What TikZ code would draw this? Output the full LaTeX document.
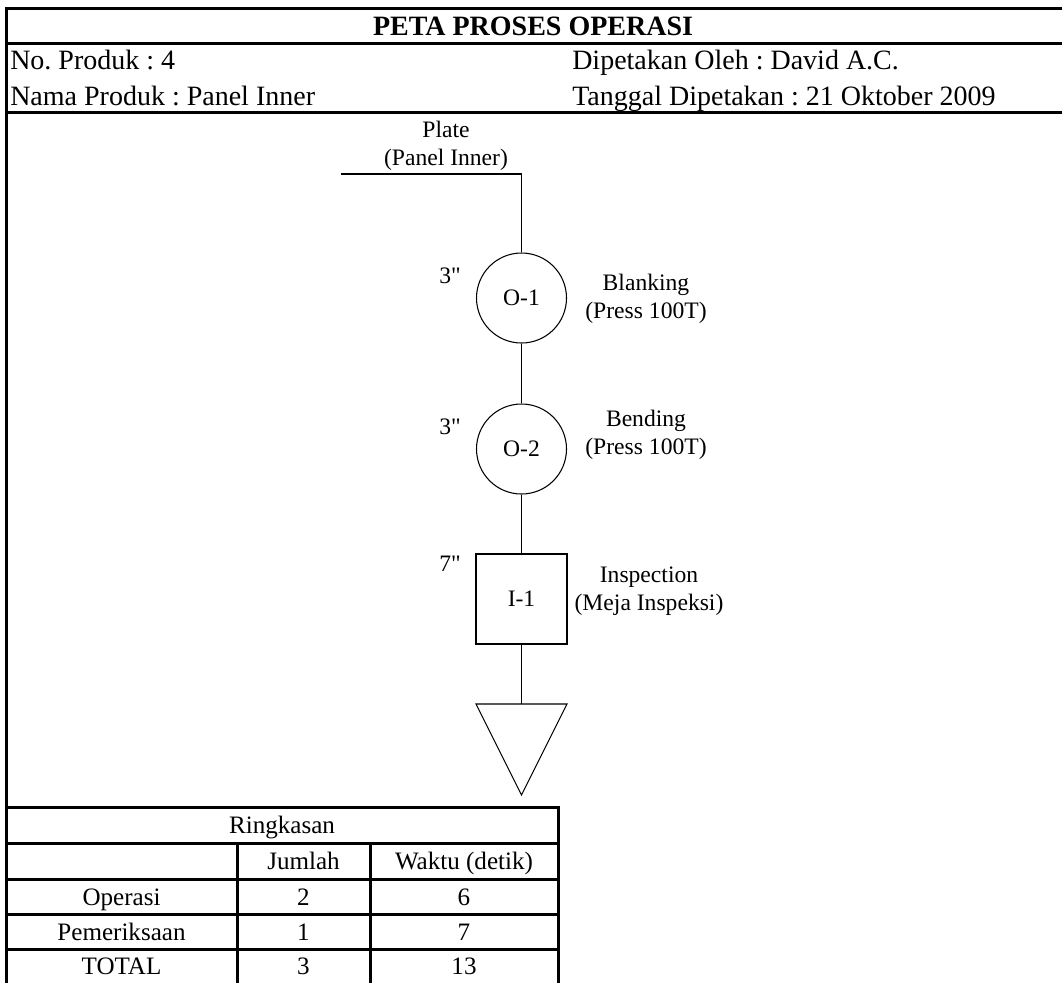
\documentclass[tikz,border=0pt]{standalone}
\usepackage{fontspec}
\setmainfont[Ligatures=TeXOff]{Liberation Serif}
\frenchspacing
\begin{document}
\begin{tikzpicture}[x=0.75pt,y=-0.75pt,
  frame/.style={line width=2.25pt},
  flow/.style={line width=0.8pt},
  hdr/.style={font=\fontsize{21}{25}\selectfont, inner sep=0pt},
  lbl/.style={font=\fontsize{17.7}{21}\selectfont, inner sep=0pt, align=center},
  tbl/.style={font=\fontsize{18.8}{23}\selectfont, inner sep=0pt, anchor=base},
  opcircle/.style={draw, circle, line width=0.8pt, minimum size=67.5pt, inner sep=0pt, font=\fontsize{17.7}{21}\selectfont},
  inbox/.style={draw, rectangle, line width=0.8pt, minimum width=68.25pt, minimum height=67.5pt, inner sep=0pt, font=\fontsize{17.7}{21}\selectfont}]
\useasboundingbox (0,0) rectangle (1062,983);
% header frame
\coordinate (tl) at (6,8);
\coordinate (tr) at (1062,8);
\coordinate (l1) at (6,43);
\coordinate (r1) at (1062,43);
\coordinate (l2) at (6,112);
\coordinate (r2) at (1062,112);
\coordinate (bl) at (6,983);
\draw[frame] (tr) -- (tl) -- (bl);
\draw[frame] (l1) -- (r1);
\draw[frame] (l2) -- (r2);
% header texts
\node[hdr, font=\fontsize{21}{25}\selectfont\bfseries, anchor=base] (title) at (533,35) {PETA PROSES OPERASI};
\node[hdr, anchor=base west] (nop) at (10,69.5) {No. Produk : 4};
\node[hdr, anchor=base west] (nama) at (10,105) {Nama Produk : Panel Inner};
\node[hdr, anchor=base west] (oleh) at (572,69.5) {Dipetakan Oleh : David A.C.};
\node[hdr, anchor=base west] (tgl) at (572,105) {Tanggal Dipetakan : 21 Oktober 2009};
% flow
\node[lbl] (plate) at (446,146) {Plate\\(Panel Inner)};
\coordinate (ps) at (341,174);
\coordinate (pc) at (521.5,174);
\node[opcircle] (o1) at (521.5,298) {O-1};
\node[opcircle] (o2) at (521.5,449) {O-2};
\node[inbox] (i1) at (521.5,599) {I-1};
\coordinate (tri) at (521.5,704);
\coordinate (trl) at (476,704);
\coordinate (trr) at (567,704);
\coordinate (tra) at (521.5,795);
\draw[flow] (ps) -- (pc) -- (o1.north);
\draw[flow] (o1.south) -- (o2.north);
\draw[flow] (o2.south) -- (i1.north);
\draw[flow] (i1.south) -- (tri);
\draw[flow, line join=miter] (trl) -- (trr) -- (tra) -- cycle;
\node[lbl] (t1) at (450,276) {3"};
\node[lbl] (t2) at (450,427) {3"};
\node[lbl] (t3) at (450,564) {7"};
\node[lbl] (d1) at (646,299) {Blanking\\(Press 100T)};
\node[lbl] (d2) at (646,434.5) {Bending\\(Press 100T)};
\node[lbl] (d3) at (649,591) {Inspection\\(Meja Inspeksi)};
% summary table
\coordinate (ta) at (6,807);
\coordinate (tb) at (558,807);
\coordinate (tc) at (558,983);
\draw[frame] (ta) -- (tb) -- (tc);
\foreach \yy/\nm in {843/ra,879/rb,914/rc,949/rd}{
  \coordinate (\nm l) at (6,\yy);
  \coordinate (\nm r) at (558,\yy);
  \draw[frame] (\nm l) -- (\nm r);
}
\coordinate (c1t) at (237,843);
\coordinate (c1b) at (237,983);
\coordinate (c2t) at (370,843);
\coordinate (c2b) at (370,983);
\draw[frame] (c1t) -- (c1b);
\draw[frame] (c2t) -- (c2b);
\node[tbl] (ring) at (282,833) {Ringkasan};
\node[tbl] (jum) at (303.5,869) {Jumlah};
\node[tbl] (wak) at (464,869) {Waktu (detik)};
\node[tbl] (op) at (121.5,905) {Operasi};
\node[tbl] (op2) at (303.5,905) {2};
\node[tbl] (op3) at (464,905) {6};
\node[tbl] (pe) at (121.5,940) {Pemeriksaan};
\node[tbl] (pe2) at (303.5,940) {1};
\node[tbl] (pe3) at (464,940) {7};
\node[tbl] (to) at (121.5,974.5) {TOTAL};
\node[tbl] (to2) at (303.5,974.5) {3};
\node[tbl] (to3) at (464,974.5) {13};
\end{tikzpicture}
\end{document}
